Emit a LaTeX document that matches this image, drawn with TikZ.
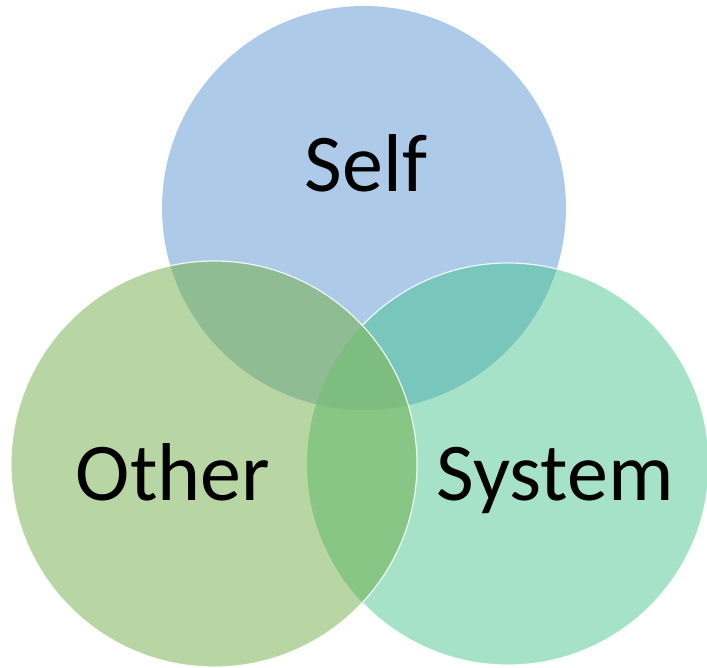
\documentclass[tikz,border=0pt]{standalone}
\usepackage{fontspec}
\setmainfont{Carlito}
\definecolor{cself}{HTML}{ADCBE9}
\definecolor{cother}{HTML}{B8D6A4}
\definecolor{csys}{HTML}{A5E2C8}
\definecolor{cso}{HTML}{8FBC92}
\definecolor{css}{HTML}{78C6BC}
\definecolor{cos}{HTML}{88C685}
\definecolor{call}{HTML}{7DBE80}
\tikzset{
  lbl/.style={anchor=base, inner sep=0pt, font=\fontsize{82}{96}\selectfont, text=black},
  rim/.style={draw=white, draw opacity=0.85, line width=1.2pt}
}
\begin{document}
\begin{tikzpicture}[x=1pt,y=-1pt]
\useasboundingbox (0,0) rectangle (707,668);
\def\SelfC{(364,208) circle (202)}
\def\OthC{(214,464) circle (203)}
\def\SysC{(508,464) circle (201)}
% base fills
\fill[cself] \SelfC;
\fill[csys] \SysC;
\fill[cother] \OthC;
% pairwise overlaps
\begin{scope}\clip \SelfC; \fill[cso] \OthC; \end{scope}
\begin{scope}\clip \SelfC; \fill[css] \SysC; \end{scope}
\begin{scope}\clip \OthC; \fill[cos] \SysC; \end{scope}
\begin{scope}\clip \SelfC; \clip \OthC; \fill[call] \SysC; \end{scope}
% white rims
\begin{scope}[even odd rule]
  \clip (-20,-20) rectangle (730,690) (214,464) circle (203);
  \draw[rim] \SysC;
\end{scope}
\draw[rim] \OthC;
% labels
\node[lbl] (self) at (366,192) {Self};
\node[lbl] (other) at (173,500) {Other};
\node[lbl] (system) at (555,500) {System};
\end{tikzpicture}
\end{document}
